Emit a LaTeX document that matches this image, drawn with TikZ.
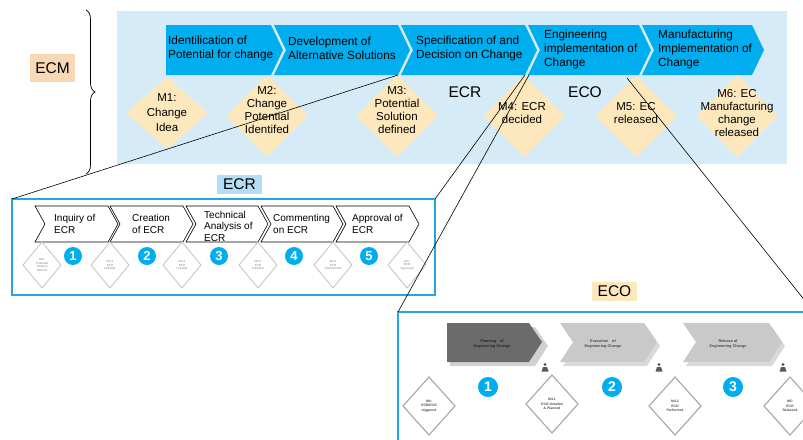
\documentclass[tikz,border=0pt]{standalone}
\usepackage{fontspec}
\setmainfont{Liberation Sans}
\usetikzlibrary{decorations.pathreplacing}

\definecolor{panelblue}{HTML}{D5EBF8}
\definecolor{chevblue}{HTML}{00ADEF}
\definecolor{msyellow}{HTML}{FDE8BE}
\definecolor{ecmpeach}{HTML}{F8D8B5}
\definecolor{ecrlabel}{HTML}{B5DDF4}
\definecolor{frameblue}{HTML}{22A7E3}
\definecolor{darkchev}{HTML}{6B6B6B}
\definecolor{lightchev}{HTML}{C9C9C9}

\tikzset{
  phase/.style={align=left,anchor=west,inner sep=0,font=\fontsize{11.8}{14}\selectfont},
  mstext/.style={align=center,inner sep=0,font=\fontsize{11.5}{12.7}\selectfont},
  biglabel/.style={inner sep=0,font=\fontsize{15.5}{18}\selectfont},
  stepnum/.style={circle,fill=chevblue,text=white,inner sep=0,minimum size=18pt,font=\bfseries\fontsize{13}{13}\selectfont},
  ecrstep/.style={align=left,anchor=west,inner sep=0,font=\fontsize{10}{11.5}\selectfont},
  tinytext/.style={align=center,inner sep=0,text=gray,font=\fontsize{3}{3.6}\selectfont},
  ecotext/.style={align=center,inner sep=0,font=\bfseries\fontsize{3.8}{4.6}\selectfont},
  zoomline/.style={black,line width=0.6pt},
  frame/.style={draw=frameblue,line width=1.2pt,inner sep=0,outer sep=0},
}

\begin{document}
\begin{tikzpicture}[x=1pt,y=-1pt]
   \useasboundingbox (0,0) rectangle (803,439);
   \clip (0,0) rectangle (803,439);
   %\draw[very thin,gray,step=10] (0,0) grid (803,439);

   % ECM panel
   \node[fill=panelblue,minimum width=670pt,minimum height=153pt,inner sep=0] (panel) at (452,87.5) {};
   \node[biglabel,fill=ecmpeach,minimum width=45pt,minimum height=28pt] (ecm) at (52.5,68) {ECM};
   \draw[decorate,decoration={brace,amplitude=9pt},line width=0.7pt] (86,10) -- (86,174);

   % milestones
   \fill[msyellow] (126,113) -- (167,77) -- (208,113) -- (167,149) -- cycle;
   \foreach \x in {267,397,524,636,737}
      \fill[msyellow] (\x-41,116) -- (\x,75) -- (\x+41,116) -- (\x,157) -- cycle;

   % phases
   \fill[chevblue] (166,25) -- (271,25) -- (283,50) -- (271,75) -- (166,75) -- cycle;
   \foreach \l/\r in {274/410,401/537,528/651,642/764}
      \fill[chevblue] (\l,25) -- (\r-12,25) -- (\r,50) -- (\r-12,75) -- (\l,75) -- (\l+12,50) -- cycle;
   \node[phase] (p1) at (168,48) {Identilication of\\Potential for change};
   \node[phase] (p2) at (288,48) {Development of\\Alternative Solutions};
   \node[phase] (p3) at (416,48) {Specification of and\\Decision on Change};
   \node[phase] (p4) at (544,49) {Engineering\\implementation of\\Change};
   \node[phase] (p5) at (658,49) {Manufacturing\\Implementation of\\Change};

   \node[mstext,font=\fontsize{11.5}{15}\selectfont] (m1) at (167,113) {M1:\\Change\\Idea};
   \node[mstext] (m2) at (267,110) {M2:\\Change\\Potential\\Identifed};
   \node[mstext] (m3) at (397,110) {M3:\\Potential\\Solution\\defined};
   \node[mstext] (m4) at (522,113) {M4: ECR\\decided};
   \node[mstext] (m5) at (636,113) {M5: EC\\released};
   \node[mstext] (m6) at (737,113) {M6: EC\\Manufacturing\\change\\released};

   \node[biglabel] (ecrtag) at (465,92) {ECR};
   \node[biglabel] (ecotag) at (585,92) {ECO};

   % ECR detail
   \node[frame,minimum width=423pt,minimum height=96pt] (ecrbox) at (223.5,247) {};
   \node[biglabel,fill=ecrlabel,minimum width=45pt,minimum height=19pt] (ecr) at (239.5,184.5) {ECR};
   \foreach \l/\r in {35/118,110/193,186/268,261/343,336/419}
      \draw[fill=white,line width=0.6pt] (\l,206) -- (\r-10,206) -- (\r,224) -- (\r-10,242) -- (\l,242) -- (\l+10,224) -- cycle;
   \node[ecrstep] (s1) at (54,224) {Inquiry of\\ECR};
   \node[ecrstep] (s2) at (132,224) {Creation\\of ECR};
   \node[ecrstep] (s3) at (204,226) {Technical\\Analysis of\\ECR};
   \node[ecrstep] (s4) at (273,224) {Commenting\\on ECR};
   \node[ecrstep] (s5) at (352,224) {Approval of\\ECR};
   \foreach \x/\t [count=\i] in {42/{M3:\\Potential\\Solution\\Defined},110/{M3.1\\ECR\\Initiated},182/{M3.2\\ECR\\Created},
         258/{M3.3\\ECR\\Detailed},333/{M3.4\\ECR\\Commented},407/{M4:\\ECR\\Approved}}{
      \draw[gray!45,line width=0.9pt] (\x-19,265) -- (\x,242) -- (\x+19,265) -- (\x,288) -- cycle;
      \node[tinytext] (em\i) at (\x,265) {\t};
   }
   \foreach \x [count=\i] in {73,147,219,294,369}
      \node[stepnum] (en\i) at (\x,256) {\i};

   % ECO detail
   \node[frame,minimum width=416pt,minimum height=140pt] (ecobox) at (606,382) {};
   \node[biglabel,fill=msyellow,minimum width=45pt,minimum height=19pt] (eco) at (614.5,291.5) {ECO};
   \fill[black,opacity=0.18] (450,327) -- (535,327) -- (548,346) -- (535,366) -- (450,366) -- cycle;
   \fill[darkchev] (447,323) -- (529,323) -- (542,342) -- (529,362) -- (447,362) -- cycle;
   \foreach \l/\r in {560/657,683/782}{
      \fill[black,opacity=0.15] (\l+3,327) -- (\r-10,327) -- (\r+3,346) -- (\r-10,366) -- (\l+3,366) -- (\l+16,346) -- cycle;
      \fill[lightchev] (\l,323) -- (\r-13,323) -- (\r,342) -- (\r-13,362) -- (\l,362) -- (\l+13,342) -- cycle;
   }
   \node[ecotext,text=black!85] (o1) at (492,344) {Planning\quad of\\Engineering Change};
   \node[ecotext,text=black!70] (o2) at (603,344) {Execution\quad of\\Engineering Change};
   \node[ecotext,text=black!70] (o3) at (728,344) {Release of\\Engineering Change};
   \foreach \x in {545,659,783}{
      \fill[black!65] (\x,364.5) circle (1.6);
      \fill[black!65] (\x-3.5,371.5) -- (\x-2,367) -- (\x+2,367) -- (\x+3.5,371.5) -- cycle;
   }
   \foreach \x/\y/\t [count=\i] in {429/406/{M4:\\ECR/ECO\\triggered},552/404/{M4.1\\ECO Detailed\\\& Planned},
         675/406/{M4.2\\ECO\\Performed},790/406/{M5:\\ECO\\Released}}{
      \draw[draw=gray!70,fill=white,line width=1.1pt] (\x-26,\y) -- (\x,\y-29) -- (\x+26,\y) -- (\x,\y+29) -- cycle;
      \node[tinytext,text=black!70,font=\bfseries\fontsize{3.4}{4.2}\selectfont] (od\i) at (\x,\y) {\t};
   }
   \foreach \x [count=\i] in {488,612,733}
      \node[stepnum,minimum size=20pt,font=\bfseries\fontsize{14}{14}\selectfont] (on\i) at (\x,387) {\i};

   % zoom lines
   \coordinate (z1) at (398,75);
   \coordinate (z2) at (525,75);
   \coordinate (z3) at (529,75);
   \coordinate (z4) at (627,78);
   \draw[zoomline] (z1) -- (ecrbox.north west);
   \draw[zoomline] (z2) -- (ecrbox.north east);
   \draw[zoomline] (z3) -- (ecobox.north west);
   \draw[zoomline] (z4) -- (ecobox.north east);
\end{tikzpicture}
\end{document}
